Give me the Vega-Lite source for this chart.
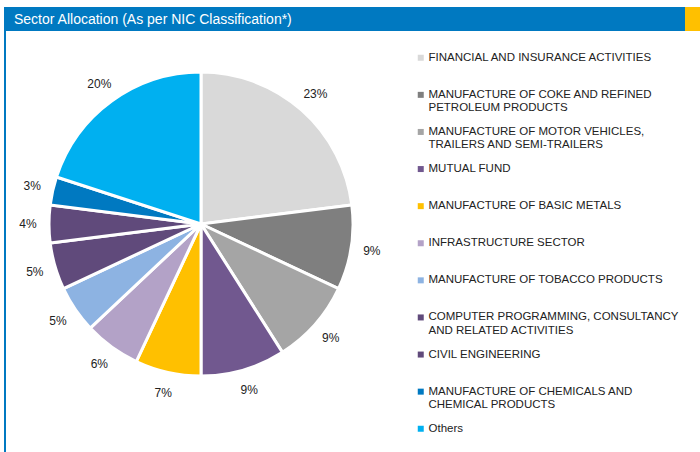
{
  "$schema": "https://vega.github.io/schema/vega-lite/v6.json",
  "padding": {"left": 4, "top": 7, "right": 0, "bottom": 0},
  "background": "white",
  "spacing": 0,
  "config": {"view": {"stroke": null}, "concat": {"spacing": 0}, "font": "Liberation Sans"},
  "resolve": {"scale": {"color": "independent"}, "legend": {"color": "independent"}},
  "vconcat": [
    {
      "spacing": 0,
      "hconcat": [
        {
          "width": 681,
          "height": 24,
          "view": {"fill": "#0079C1", "stroke": null},
          "data": {"values": [{"title": "Sector Allocation (As per NIC Classification*)"}]},
          "mark": {"type": "text", "align": "left", "baseline": "middle", "color": "white", "font": "Liberation Sans", "fontSize": 14, "dx": 10, "dy": 1},
          "encoding": {
            "text": {"field": "title"},
            "x": {"field": "title", "type": "nominal", "axis": null, "bandPosition": 0, "scale": {"type": "band", "paddingInner": 0, "paddingOuter": 0}}
          }
        },
        {
          "width": 15,
          "height": 24,
          "view": {"fill": "#FFC000", "stroke": null},
          "data": {"values": [{}]},
          "mark": {"type": "rect", "opacity": 0}
        }
      ]
    },
    {
      "spacing": 0,
      "resolve": {"scale": {"color": "independent"}, "legend": {"color": "independent"}},
      "hconcat": [
        {
          "width": 2,
          "height": 421,
          "view": {"fill": "#0079C1", "stroke": null},
          "data": {"values": [{}]},
          "mark": {"type": "rect", "opacity": 0}
        },
        {
          "width": 390,
          "height": 386,
          "data": {"values": [
            {"sector": "FINANCIAL AND INSURANCE ACTIVITIES", "pct": 0.23},
            {"sector": "MANUFACTURE OF COKE AND REFINED PETROLEUM PRODUCTS", "pct": 0.09},
            {"sector": "MANUFACTURE OF MOTOR VEHICLES, TRAILERS AND SEMI-TRAILERS", "pct": 0.09},
            {"sector": "MUTUAL FUND", "pct": 0.09},
            {"sector": "MANUFACTURE OF BASIC METALS", "pct": 0.07},
            {"sector": "INFRASTRUCTURE SECTOR", "pct": 0.06},
            {"sector": "MANUFACTURE OF TOBACCO PRODUCTS", "pct": 0.05},
            {"sector": "COMPUTER PROGRAMMING, CONSULTANCY AND RELATED ACTIVITIES", "pct": 0.05},
            {"sector": "CIVIL ENGINEERING", "pct": 0.04},
            {"sector": "MANUFACTURE OF CHEMICALS AND CHEMICAL PRODUCTS", "pct": 0.03},
            {"sector": "Others", "pct": 0.20}
          ]},
          "transform": [{"window": [{"op": "row_number", "as": "idx"}]}],
          "encoding": {
            "theta": {"field": "pct", "type": "quantitative", "stack": true},
            "order": {"field": "idx", "type": "quantitative"}
          },
          "layer": [
            {
              "mark": {"type": "arc", "outerRadius": 152, "stroke": "white", "strokeWidth": 3},
              "encoding": {
                "color": {
                  "field": "sector",
                  "type": "nominal",
                  "scale": {
                    "domain": [
                      "FINANCIAL AND INSURANCE ACTIVITIES",
                      "MANUFACTURE OF COKE AND REFINED PETROLEUM PRODUCTS",
                      "MANUFACTURE OF MOTOR VEHICLES, TRAILERS AND SEMI-TRAILERS",
                      "MUTUAL FUND",
                      "MANUFACTURE OF BASIC METALS",
                      "INFRASTRUCTURE SECTOR",
                      "MANUFACTURE OF TOBACCO PRODUCTS",
                      "COMPUTER PROGRAMMING, CONSULTANCY AND RELATED ACTIVITIES",
                      "CIVIL ENGINEERING",
                      "MANUFACTURE OF CHEMICALS AND CHEMICAL PRODUCTS",
                      "Others"
                    ],
                    "range": ["#D9D9D9", "#7F7F7F", "#A5A5A5", "#71588F", "#FFC000", "#B3A2C7", "#8DB3E2", "#604A7B", "#604A7B", "#0079C1", "#00B0F0"]
                  },
                  "legend": {
                    "orient": "right",
                    "title": null,
                    "symbolType": "square",
                    "symbolSize": 36,
                    "symbolStrokeWidth": 0,
                    "labelFont": "Liberation Sans",
                    "labelFontSize": 11.5,
                    "labelColor": "#222222",
                    "labelLimit": 300,
                    "labelOffset": 2,
                    "gridAlign": "all",
                    "rowPadding": 11.1,
                    "padding": 21,
                    "offset": -2,
                    "labelExpr": "length(datum.label) > 34 ? split(replace(datum.label, regexp('^(.{1,34}) (.*)$'), '$1|$2'), '|') : datum.label"
                  }
                }
              }
            },
            {
              "mark": {"type": "text", "radius": 173, "fontSize": 12, "font": "Liberation Sans"},
              "encoding": {
                "text": {"field": "pct", "type": "quantitative", "format": ".0%"},
                "color": {"value": "#222222"}
              }
            }
          ]
        }
      ]
    }
  ]
}
